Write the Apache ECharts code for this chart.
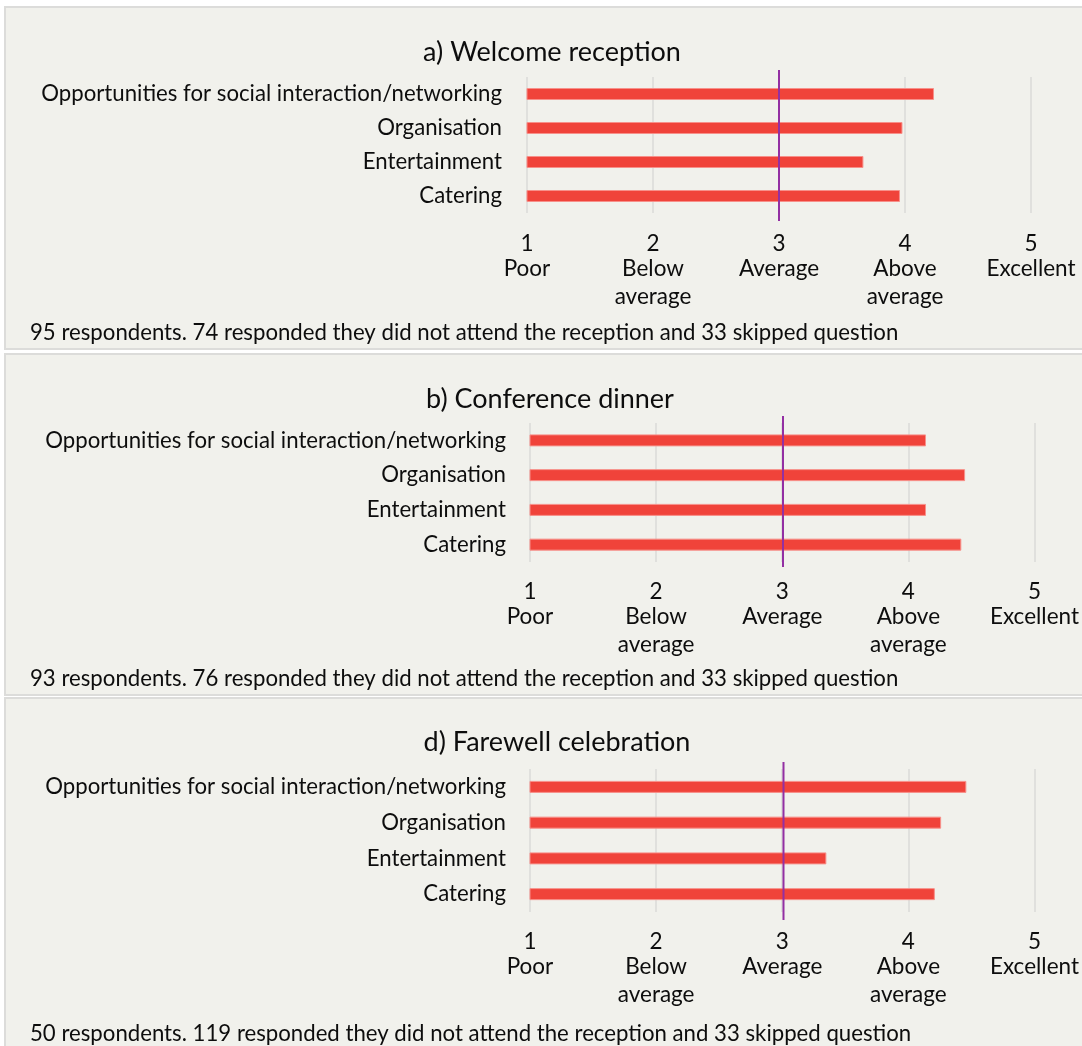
<!DOCTYPE html>
<html>
<head>
<meta charset="utf-8">
<script src="https://cdn.jsdelivr.net/npm/echarts@6/dist/echarts.min.js"></script>
<style>
html,body{margin:0;padding:0;background:#ffffff;}
#chart{width:1082px;height:1046px;}
</style>
</head>
<body>
<div id="chart"></div>
<script>
// ---- Data ----
const categories = ['Opportunities for social interaction/networking', 'Organisation', 'Entertainment', 'Catering'];
const panelTitles = ['a) Welcome reception', 'b) Conference dinner', 'd) Farewell celebration'];
const footnotes = [
  '95 respondents. 74 responded they did not attend the reception and 33 skipped question',
  '93 respondents. 76 responded they did not attend the reception and 33 skipped question',
  '50 respondents. 119 responded they did not attend the reception and 33 skipped question'
];
const welcomeValues = [4.23, 3.98, 3.67, 3.96];
const dinnerValues = [4.14, 4.45, 4.14, 4.42];
const farewellValues = [4.46, 4.26, 3.35, 4.21];
const tickNumbers = ['1', '2', '3', '4', '5'];
const tickTexts = ['Poor', 'Below\naverage', 'Average', 'Above\naverage', 'Excellent'];
const averageMark = 3;

const seriesValues = [welcomeValues, dinnerValues, farewellValues];

// ---- Layout (styles only) ----
const FONT = 'Lato';
const TXT = '#0d0d0d';
const panels = [
  {y: 7, h: 342, gridTop: 77, gridH: 136, left: 527, right: 51, lineTop: 70, lineH: 151, titleY: 47, footY: 333, labelMargin: 20, yMargin: 25},
  {y: 354, h: 341, gridTop: 423, gridH: 139, left: 530, right: 46, lineTop: 416, lineH: 151, titleY: 394, footY: 679, labelMargin: 19, yMargin: 24},
  {y: 698, h: 360, gridTop: 769, gridH: 143, left: 530, right: 45, lineTop: 762, lineH: 158, titleY: 737, footY: 1034, labelMargin: 19, yMargin: 24}
];
const titleCenters = [547, 545, 552];

const chart = echarts.init(document.getElementById('chart'), null, {renderer: 'canvas'});

const grids = [], xAxes = [], yAxes = [], series = [], titles = [], graphics = [];

panels.forEach((p, i) => {
  graphics.push({
    type: 'rect', z: -10, silent: true,
    shape: {x: 5, y: p.y, width: 1090, height: p.h},
    style: {fill: '#f1f1ec', stroke: '#dcdcda', lineWidth: 2}
  });
  titles.push({
    text: panelTitles[i], left: titleCenters[i], top: p.titleY, textAlign: 'center', textVerticalAlign: 'middle',
    textStyle: {fontFamily: FONT, fontSize: 27, fontWeight: 'normal', color: TXT}
  });
  titles.push({
    text: footnotes[i], left: 25, top: p.footY - 16,
    textStyle: {fontFamily: FONT, fontSize: 22.2, fontWeight: 'normal', color: TXT}
  });

  // bar grid
  const gi = grids.length;
  grids.push({left: p.left, right: p.right, top: p.gridTop, height: p.gridH, containLabel: false});
  xAxes.push({
    type: 'value', gridIndex: gi, min: 1, max: 5, interval: 1,
    axisLine: {show: false}, axisTick: {show: false},
    splitLine: {show: true, lineStyle: {color: '#e0e0dd', width: 2}},
    axisLabel: {
      margin: p.labelMargin,
      formatter: function (v) {
        const k = Math.round(v) - 1;
        return '{n|' + tickNumbers[k] + '}\n' + tickTexts[k].split('\n').map(t => '{t|' + t + '}').join('\n');
      },
      rich: {
        n: {fontFamily: FONT, fontSize: 22.5, lineHeight: 22, color: TXT, align: 'center'},
        t: {fontFamily: FONT, fontSize: 22.5, lineHeight: 28, color: TXT, align: 'center'}
      }
    }
  });
  yAxes.push({
    type: 'category', gridIndex: gi, data: categories, inverse: true,
    axisLine: {show: false}, axisTick: {show: false},
    axisLabel: {margin: p.yMargin, fontFamily: FONT, fontSize: 22.2, color: TXT}
  });
  series.push({
    type: 'bar', xAxisIndex: gi, yAxisIndex: gi, data: seriesValues[i],
    barWidth: 12,
    itemStyle: {color: '#f0433a', borderColor: '#f7908a', borderWidth: 1},
    silent: true, animation: false
  });

  // average line grid (taller than bar grid)
  const li = grids.length;
  grids.push({left: p.left, right: p.right, top: p.lineTop, height: p.lineH});
  xAxes.push({type: 'value', gridIndex: li, min: 1, max: 5, interval: 1, show: false});
  yAxes.push({type: 'value', gridIndex: li, min: 0, max: 1, show: false});
  series.push({
    type: 'line', xAxisIndex: li, yAxisIndex: li,
    data: [[averageMark, 0], [averageMark, 1]],
    symbol: 'none', lineStyle: {color: '#932fa3', width: 2},
    silent: true, animation: false, z: 5
  });
});

chart.setOption({
  animation: false,
  backgroundColor: '#ffffff',
  title: titles,
  grid: grids,
  xAxis: xAxes,
  yAxis: yAxes,
  series: series,
  graphic: graphics
});
</script>
</body>
</html>
